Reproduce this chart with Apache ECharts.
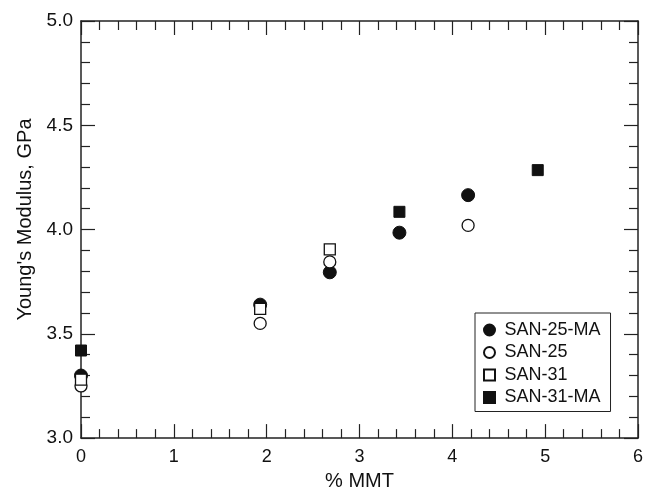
<!DOCTYPE html>
<html>
<head>
<meta charset="utf-8">
<script src="https://cdn.jsdelivr.net/npm/echarts@6/dist/echarts.min.js"></script>
<style>
  html, body { margin: 0; padding: 0; background: #fff; }
  #chart { width: 646px; height: 496px; }
</style>
</head>
<body>
<div id="chart"></div>
<script>
// values: [% MMT, modulus GPa]
const san25ma = [[0, 3.30], [1.93, 3.64], [2.68, 3.795], [3.43, 3.985], [4.17, 4.165]];
const san25 = [[0, 3.25], [1.93, 3.55], [2.68, 3.845], [4.17, 4.02]];
const san31 = [[0, 3.28], [1.93, 3.62], [2.68, 3.905]];
const san31ma = [[0, 3.42], [3.43, 4.085], [4.92, 4.285]];

const axisColor = '#222';
const font = 'Liberation Sans, Arial, sans-serif';
const squareIcon = 'path://M0,0H10V10H0Z';

let chart = echarts.init(document.getElementById('chart'));

// frame axis helper: ticks pointing in, major + minor
function frameTicks() {
    return {
        axisLine: { show: true, onZero: false, lineStyle: { color: axisColor, width: 1.5 } },
        axisTick: { show: true, inside: true, length: 14, lineStyle: { color: axisColor, width: 1.2 } },
        minorTick: { show: true, splitNumber: 5, length: 9, lineStyle: { color: axisColor, width: 1.2 } },
        splitLine: { show: false }
    };
}

chart.setOption({
    animation: false,
    backgroundColor: '#fff',
    textStyle: { fontFamily: font },
    grid: { left: 81, right: 3, top: 21, bottom: 54 },
    legend: {
        orient: 'vertical',
        left: 475,
        top: 313,
        padding: [8, 10, 5, 8],
        itemGap: 4.5,
        itemWidth: 20,
        itemHeight: 11,
        symbolKeepAspect: true,
        borderColor: '#222',
        borderWidth: 1,
        backgroundColor: '#fff',
        textStyle: { fontSize: 18, color: '#111', fontFamily: font },
        data: [
            { name: 'SAN-25-MA', icon: 'circle' },
            { name: 'SAN-25', icon: 'circle' },
            { name: 'SAN-31', icon: squareIcon },
            { name: 'SAN-31-MA', icon: squareIcon }
        ]
    },
    xAxis: [
        Object.assign({
            type: 'value', min: 0, max: 6, interval: 1,
            position: 'bottom',
            name: '% MMT', nameLocation: 'middle', nameGap: 32,
            nameTextStyle: { fontSize: 20, color: '#111', fontFamily: font },
            axisLabel: { fontSize: 18, color: '#111', margin: 10, fontFamily: font }
        }, frameTicks()),
        Object.assign({
            type: 'value', min: 0, max: 6, interval: 1,
            position: 'top',
            axisLabel: { show: false }
        }, frameTicks())
    ],
    yAxis: [
        Object.assign({
            type: 'value', min: 3.0, max: 5.0, interval: 0.5,
            position: 'left',
            name: "Young's Modulus, GPa", nameLocation: 'middle', nameGap: 43,
            nameTextStyle: { fontSize: 20, color: '#111', fontFamily: font, padding: [0, 0, 0, 20] },
            axisLabel: {
                fontSize: 19, color: '#111', margin: 8, fontFamily: font,
                formatter: function (v) { return v.toFixed(1); }
            }
        }, frameTicks()),
        Object.assign({
            type: 'value', min: 3.0, max: 5.0, interval: 0.5,
            position: 'right',
            axisLabel: { show: false }
        }, frameTicks())
    ],
    series: [
        {
            name: 'SAN-25-MA', type: 'scatter', data: san25ma,
            symbol: 'circle', symbolSize: 13,
            itemStyle: { color: '#111', borderColor: '#111', borderWidth: 1, opacity: 1 }
        },
        {
            name: 'SAN-25', type: 'scatter', data: san25,
            symbol: 'circle', symbolSize: 12,
            itemStyle: { color: '#fff', borderColor: '#111', borderWidth: 1.3, opacity: 1 }
        },
        {
            name: 'SAN-31', type: 'scatter', data: san31,
            symbol: 'rect', symbolSize: 11,
            itemStyle: { color: '#fff', borderColor: '#111', borderWidth: 1.3, opacity: 1 }
        },
        {
            name: 'SAN-31-MA', type: 'scatter', data: san31ma,
            symbol: 'rect', symbolSize: 11,
            itemStyle: { color: '#111', borderColor: '#111', borderWidth: 1, opacity: 1 }
        }
    ]
});
</script>
</body>
</html>
